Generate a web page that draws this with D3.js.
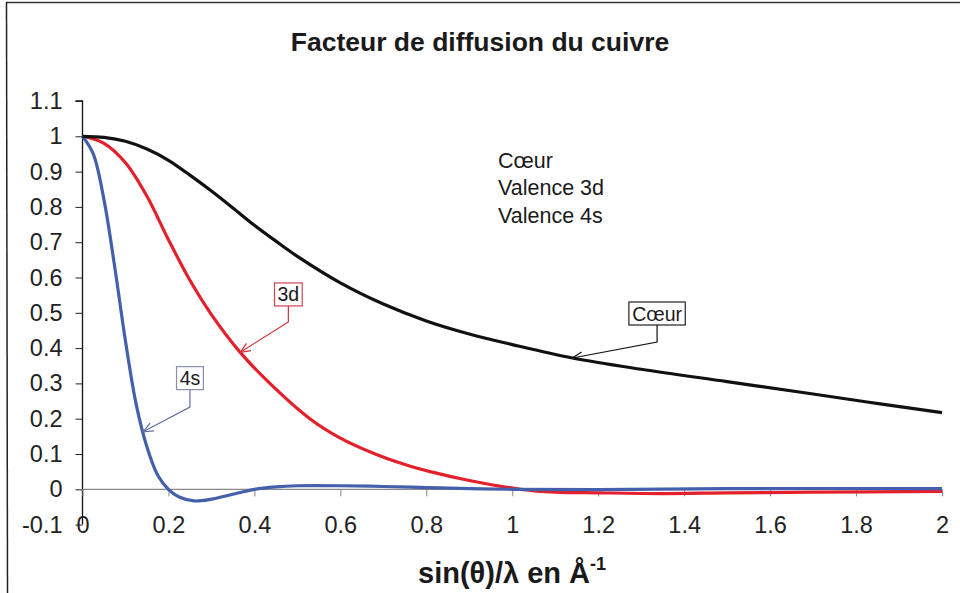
<!DOCTYPE html>
<html>
<head>
<meta charset="utf-8">
<script src="https://cdn.jsdelivr.net/npm/d3@7"></script>
<style>
  html, body { margin: 0; padding: 0; background: #fff; }
  svg { display: block; font-family: "Liberation Sans", Arial, sans-serif; }
</style>
</head>
<body>
<svg id="chart" width="960" height="593"></svg>
<script>
// ---- Data ----
const title = "Facteur de diffusion du cuivre";
const xTicks = [0, 0.2, 0.4, 0.6, 0.8, 1, 1.2, 1.4, 1.6, 1.8, 2];
const yTicks = [-0.1, 0, 0.1, 0.2, 0.3, 0.4, 0.5, 0.6, 0.7, 0.8, 0.9, 1, 1.1];
const legendLabels = ["Cœur", "Valence 3d", "Valence 4s"];

// Cœur (core) scattering factor
const coeurX = [0, 0.05, 0.1, 0.15, 0.2, 0.25, 0.3, 0.35, 0.4, 0.45, 0.5, 0.6, 0.7, 0.8, 0.9, 1.0, 1.14, 1.3, 1.5, 1.7, 1.856, 2];
const coeurY = [1, 0.997, 0.986, 0.964, 0.932, 0.89, 0.845, 0.797, 0.748, 0.703, 0.66, 0.585, 0.525, 0.477, 0.44, 0.41, 0.372, 0.34, 0.305, 0.27, 0.242, 0.217];

// Valence 3d
const d3dX = [0, 0.05, 0.1, 0.15, 0.2, 0.25, 0.3, 0.367, 0.436, 0.529, 0.6, 0.681, 0.75, 0.809, 0.9, 1.02, 1.1, 1.2, 1.35, 1.5, 1.7, 2];
const d3dY = [1, 0.98, 0.925, 0.83, 0.707, 0.592, 0.495, 0.388, 0.3, 0.2, 0.145, 0.1, 0.07, 0.05, 0.025, 0, -0.008, -0.01, -0.012, -0.01, -0.008, -0.006];

// Valence 4s
const s4X = [0, 0.025, 0.05, 0.075, 0.1, 0.125, 0.15, 0.175, 0.2, 0.225, 0.26, 0.3, 0.35, 0.4, 0.45, 0.5, 0.6, 0.7, 0.8, 0.9, 1.0, 1.2, 1.5, 2];
const s4Y = [1, 0.95, 0.82, 0.63, 0.42, 0.24, 0.12, 0.04, 0, -0.022, -0.033, -0.028, -0.014, 0, 0.007, 0.01, 0.01, 0.008, 0.005, 0.002, 0, -0.001, 0.002, 0.002];

// Callout labels: text, arrow tip (data), box centre (data), elbow y (data)
const calloutText = ["Cœur", "3d", "4s"];
const calloutTipX = [1.14, 0.367, 0.141];
const calloutTipY = [0.372, 0.388, 0.163];
const calloutBoxX = [1.337, 0.479, 0.25];
const calloutBoxY = [0.498, 0.552, 0.315];
const calloutElbowY = [0.417, 0.474, 0.233];

// ---- Drawing ----
const svg = d3.select("#chart");
const W = 960, H = 593;

const x = d3.scaleLinear().domain([0, 2]).range([82.5, 942]);
const y = d3.scaleLinear().domain([-0.1, 1.1]).range([524.6, 101]);

const colors = { coeur: "#111111", d3: "#e3202b", s4: "#4460ad" };
const calloutStroke = ["#111111", "#d2303e", "#6270a6"];
const calloutBorder = ["#222222", "#cc4455", "#8a90ad"];

// outer frame (top + left)
svg.append("line").attr("x1", 6).attr("x2", W).attr("y1", 2.5).attr("y2", 2.5)
  .attr("stroke", "#333").attr("stroke-width", 1.5);
svg.append("line").attr("x1", 6.5).attr("x2", 7.5).attr("y1", 2).attr("y2", H)
  .attr("stroke", "#222").attr("stroke-width", 1.5);

// title
svg.append("text").attr("x", 480).attr("y", 51).attr("text-anchor", "middle")
  .attr("font-size", 26.5).attr("font-weight", "bold").attr("fill", "#1a1a1a")
  .text(title);

// y axis
const yAxis = d3.axisLeft(y).tickValues(yTicks).tickSize(7).tickPadding(13)
  .tickFormat(d => String(+d.toFixed(1)));
const gy = svg.append("g").attr("transform", `translate(${x(0)},0)`).call(yAxis);
gy.select(".domain").attr("stroke", "#111").attr("stroke-width", 1.3)
  .attr("d", `M-7,${y(1.1)}H0V${y(-0.1)}`);
gy.selectAll(".tick line").attr("stroke", "#222");
gy.selectAll(".tick text").attr("font-size", 23.5).attr("fill", "#222")
  .attr("font-family", "Liberation Sans, Arial, sans-serif");

// x axis at y = 0
const xAxis = d3.axisBottom(x).tickValues(xTicks).tickSize(7).tickPadding(0)
  .tickFormat(d => String(+d.toFixed(1)));
const gx = svg.append("g").attr("transform", `translate(0,${y(0)})`).call(xAxis);
gx.select(".domain").attr("stroke", "#888").attr("stroke-width", 1.3)
  .attr("d", `M${x(0)},0H${x(2)}`);
gx.selectAll(".tick line").attr("stroke", "#888");
gx.selectAll(".tick text").attr("font-size", 23.5).attr("fill", "#222")
  .attr("font-family", "Liberation Sans, Arial, sans-serif")
  .attr("dy", null).attr("y", y(-0.1) - y(0) + 8.5);

// axis title
const xt = svg.append("text").attr("x", 512).attr("y", 583).attr("text-anchor", "middle")
  .attr("font-size", 29).attr("font-weight", "bold").attr("fill", "#1a1a1a");
xt.append("tspan").text("sin(θ)/λ en Å");
xt.append("tspan").attr("font-size", 18).attr("dy", -13).text("-1");

// curves
const line = d3.line().x(d => x(d[0])).y(d => y(d[1])).curve(d3.curveCatmullRom.alpha(0.5));
const series = [
  { xs: coeurX, ys: coeurY, color: colors.coeur },
  { xs: d3dX, ys: d3dY, color: colors.d3 },
  { xs: s4X, ys: s4Y, color: colors.s4 }
];
[series[1], series[2], series[0]].forEach(s => {
  svg.append("path").datum(s.xs.map((v, i) => [v, s.ys[i]]))
    .attr("d", line).attr("fill", "none").attr("stroke", s.color)
    .attr("stroke-width", 3.2).attr("stroke-linejoin", "round");
});

// legend (text only)
legendLabels.forEach((t, i) => {
  svg.append("text").attr("x", 498).attr("y", 167.5 + i * 27.5)
    .attr("font-size", 21.5).attr("fill", "#1a1a1a").text(t);
});

// callouts
calloutText.forEach((t, i) => {
  const g = svg.append("g");
  const bx = x(calloutBoxX[i]), by = y(calloutBoxY[i]);
  const tx = x(calloutTipX[i]), ty = y(calloutTipY[i]);
  const ey = y(calloutElbowY[i]);
  const txt = g.append("text").attr("x", bx).attr("y", by + 7).attr("text-anchor", "middle")
    .attr("font-size", 19.5).attr("fill", "#1a1a1a").text(t);
  const bb = txt.node().getBBox();
  const bw = bb.width + 6, bh = 23;
  g.insert("rect", "text").attr("x", bx - bw / 2).attr("y", by - bh / 2)
    .attr("width", bw).attr("height", bh).attr("fill", "#fff")
    .attr("stroke", calloutBorder[i]).attr("stroke-width", 1.2);
  g.append("path").attr("d", `M${bx},${by + bh / 2}V${ey}L${tx},${ty}`)
    .attr("fill", "none").attr("stroke", calloutStroke[i]).attr("stroke-width", 1.2);
  const ang = Math.atan2(ey - ty, bx - tx);
  const L = 11, a = 0.4;
  const p1 = [tx + L * Math.cos(ang + a), ty + L * Math.sin(ang + a)];
  const p2 = [tx + L * Math.cos(ang - a), ty + L * Math.sin(ang - a)];
  g.append("path").attr("d", `M${p1[0]},${p1[1]}L${tx},${ty}L${p2[0]},${p2[1]}`)
    .attr("fill", "none").attr("stroke", calloutStroke[i]).attr("stroke-width", 1.2);
});
</script>
</body>
</html>
